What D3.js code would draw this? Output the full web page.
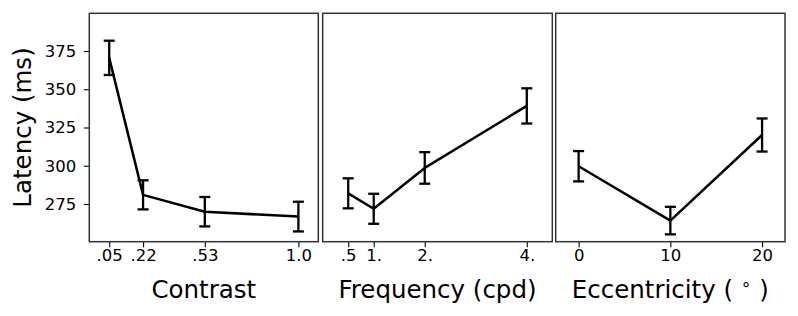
<!DOCTYPE html>
<html><head><meta charset="utf-8">
<script src="https://cdn.jsdelivr.net/npm/d3@7"></script>
<style>body{margin:0;background:#fff;} svg{display:block;} text{font-family:"DejaVu Sans",sans-serif;fill:#000;}</style>
</head><body>
<svg id="c" width="798" height="316"></svg>
<script>
const contrast = [0.05, 0.22, 0.53, 1.0];
const contrastLatency = [370.5, 281, 270, 266.8];
const contrastErr = [11.2, 9.5, 9.6, 9.7];
const contrastTicks = [".05", ".22", ".53", "1.0"];

const frequency = [0.5, 1, 2, 4];
const frequencyLatency = [282, 271.9, 298.6, 339.1];
const frequencyErr = [9.8, 9.8, 10.3, 11.5];
const frequencyTicks = [".5", "1.", "2.", "4."];

const eccentricity = [0, 10, 20];
const eccentricityLatency = [299.7, 264.2, 320.1];
const eccentricityErr = [9.9, 9.0, 10.8];
const eccentricityTicks = ["0", "10", "20"];

const yTicks = [275, 300, 325, 350, 375];

(function () {
const svg = d3.select("#c");
const yTop = 13.3, yBottom = 241.7;
const tickFont = "16.5px", labelFont = "24.5px";
const y = d3.scaleLinear().domain([250.4, 399.6]).range([yBottom, yTop]);

const panels = [
  {x0: 89.3, x1: 318.3, dom: [-0.05, 1.1], xs: contrast, ys: contrastLatency, es: contrastErr, ticks: contrastTicks, label: ["Contrast"]},
  {x0: 322.7, x1: 552.3, dom: [0, 4.5], xs: frequency, ys: frequencyLatency, es: frequencyErr, ticks: frequencyTicks, label: ["Frequency (cpd)"]},
  {x0: 555.7, x1: 785, dom: [-2.5, 22.5], xs: eccentricity, ys: eccentricityLatency, es: eccentricityErr, ticks: eccentricityTicks, label: ["Eccentricity ( ", "\u2218", " )"]}
];

panels.forEach((p, i) => {
  const x = d3.scaleLinear().domain(p.dom).range([p.x0, p.x1]);
  const g = svg.append("g");
  const ax = d3.axisBottom(x).tickValues(p.xs).tickFormat((d, j) => p.ticks[j]).tickSize(5.5).tickPadding(2.5);
  const axg = g.append("g").attr("transform", `translate(0,${yBottom})`).call(ax);
  axg.select(".domain").remove();
  axg.selectAll("line").attr("stroke", "#000").attr("stroke-width", 1.1);
  axg.selectAll("text").style("font-size", tickFont).style("font-family", "DejaVu Sans").attr("fill", "#000");
  if (i === 0) {
    const ay = d3.axisLeft(y).tickValues(yTicks).tickSize(5.5).tickPadding(7.5);
    const ayg = g.append("g").attr("transform", `translate(${p.x0},0)`).call(ay);
    ayg.select(".domain").remove();
    ayg.selectAll("line").attr("stroke", "#000").attr("stroke-width", 1.1);
    ayg.selectAll("text").style("font-size", tickFont).style("font-family", "DejaVu Sans").attr("fill", "#000");
  }
  const pts = p.xs.map((v, j) => [v, p.ys[j], p.es[j]]);
  g.append("path").datum(pts)
    .attr("d", d3.line().x(d => x(d[0])).y(d => y(d[1])))
    .attr("fill", "none").attr("stroke", "#000").attr("stroke-width", 2.5).attr("stroke-linejoin", "round");
  const eb = g.selectAll(".eb").data(pts).enter().append("g");
  eb.append("line").attr("x1", d => x(d[0])).attr("x2", d => x(d[0]))
    .attr("y1", d => y(d[1] - d[2])).attr("y2", d => y(d[1] + d[2]))
    .attr("stroke", "#000").attr("stroke-width", 2.3);
  [-1, 1].forEach(s => {
    eb.append("line").attr("x1", d => x(d[0]) - 5.5).attr("x2", d => x(d[0]) + 5.5)
      .attr("y1", d => y(d[1] + s * d[2])).attr("y2", d => y(d[1] + s * d[2]))
      .attr("stroke", "#000").attr("stroke-width", 2.3);
  });
  g.append("rect").attr("x", p.x0).attr("y", yTop).attr("width", p.x1 - p.x0).attr("height", yBottom - yTop)
    .attr("fill", "none").attr("stroke", "#333").attr("stroke-width", 1.5);
  const t = g.append("text").attr("x", (p.x0 + p.x1) / 2).attr("y", 298).attr("text-anchor", "middle")
    .style("font-size", labelFont).attr("xml:space", "preserve");
  p.label.forEach((s, k) => {
    const ts = t.append("tspan").text(s);
    if (k === 1) ts.style("font-size", "17px").attr("dy", "-8");
    if (k === 2) ts.attr("dy", "8");
  });
});

svg.append("text").attr("transform", `translate(31,${(yTop + yBottom) / 2}) rotate(-90)`)
  .attr("text-anchor", "middle").style("font-size", labelFont).text("Latency (ms)");
})();
</script>
</body></html>
